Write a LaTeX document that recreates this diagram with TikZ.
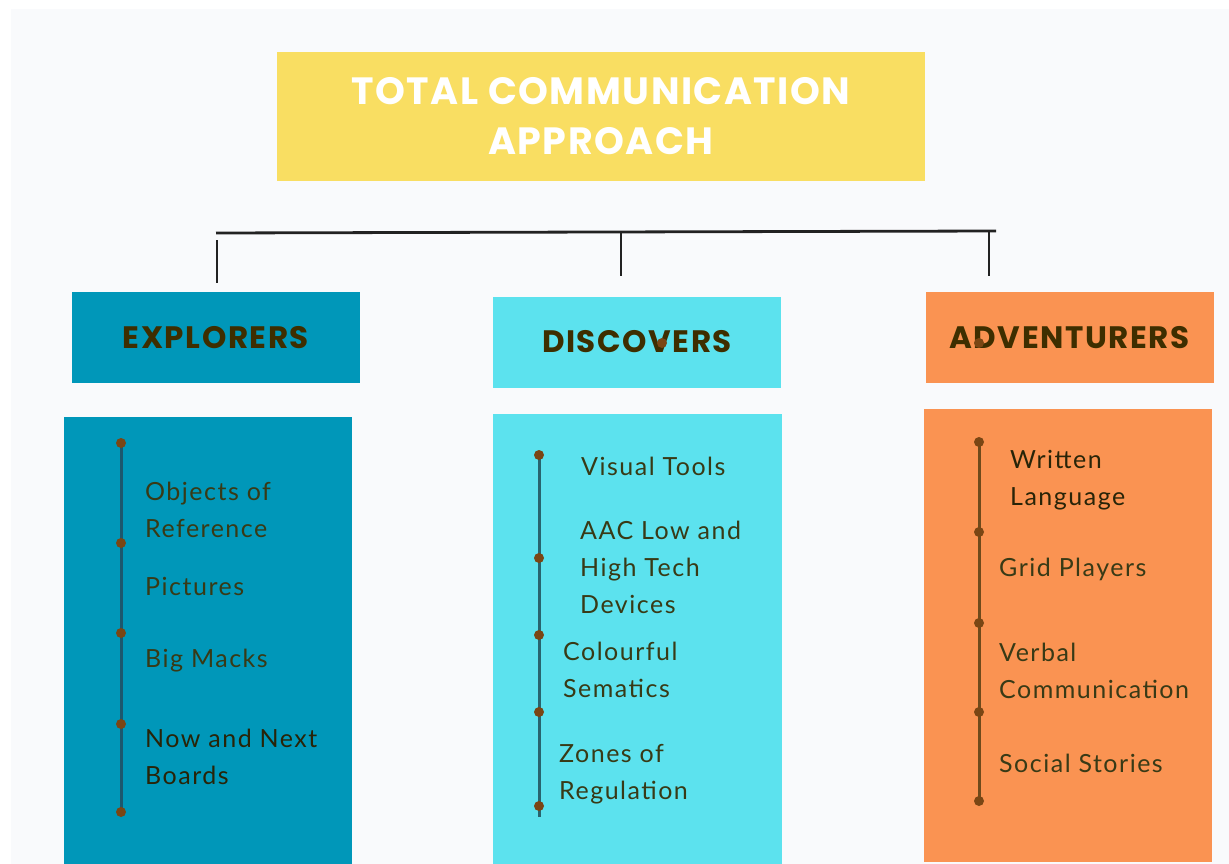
\documentclass[tikz,border=0pt]{standalone}
\usepackage{fontspec}
\setmainfont{Lato}[LetterSpace=6]
\newfontfamily\titlefont{Poppins}[LetterSpace=4]
\newfontfamily\headfont{Poppins}[LetterSpace=5]
\usetikzlibrary{positioning, calc}

\definecolor{pagebg}{RGB}{249,250,252}
\definecolor{titleyellow}{RGB}{249,222,98}
\definecolor{exploreteal}{RGB}{0,151,185}
\definecolor{discovercyan}{RGB}{92,226,238}
\definecolor{adventureorange}{RGB}{250,147,82}
\definecolor{headtext}{RGB}{62,46,0}
\definecolor{itemtext}{RGB}{56,58,22}
\definecolor{itemdark}{RGB}{40,36,8}
\definecolor{linkgray}{RGB}{34,34,34}
\definecolor{dotbrown}{RGB}{122,70,20}
\definecolor{stemteal}{RGB}{28,88,110}
\definecolor{stemslate}{RGB}{40,100,110}
\definecolor{stembrown}{RGB}{110,74,28}

\begin{document}
\begin{tikzpicture}[
    x=1pt, y=-1pt,
    title/.style={fill=titleyellow, minimum width=648pt, minimum height=129pt,
                  align=center, text=white, inner sep=0pt,
                  font=\titlefont\bfseries\fontsize{38}{50}\selectfont},
    head/.style={minimum width=288pt, minimum height=91pt, inner sep=0pt,
                 text=headtext, font=\headfont\bfseries\fontsize{31}{34}\selectfont},
    panel/.style={anchor=north west, minimum width=288pt, inner sep=0pt},
    item/.style={anchor=west, align=left, inner sep=0pt, text=itemtext,
                 font=\fontsize{25}{37}\selectfont},
    stem/.style={line width=3pt},
    dot/.style={circle, fill=dotbrown, inner sep=0pt, minimum size=10pt},
    link/.style={draw=linkgray, line width=2.8pt}
  ]
    \useasboundingbox (0,0) rectangle (1229,864);
    \fill[white] (0,0) rectangle (1229,864);
    \fill[pagebg] (11,9) rectangle (1229,864);

    \node[title] (title) at (601,116.5) {TOTAL COMMUNICATION\\APPROACH};

    % group headers
    \node[head, fill=exploreteal] (explorers) at (216,337.5) {EXPLORERS};
    \node[head, fill=discovercyan] (discovers) at (637,342) {DISCOVERS};
    \node[head, fill=adventureorange] (adventurers) at (1069.5,337.5) {ADVENTURERS};

    % tree bar
    \coordinate (busL) at (216,233);
    \coordinate (busR) at (996,231);
    \coordinate (tickL) at (217,240);
    \coordinate (tickM) at (621,232);
    \coordinate (tickR) at (989,231);
    \draw[link] (busL) -- (busR);
    \draw[link] (tickL) -- (tickL |- 0,283);
    \draw[link] (tickM) -- (tickM |- 0,276);
    \draw[link] (tickR) -- (tickR |- 0,276);

    % panels
    \node[panel, fill=exploreteal, minimum height=447pt] (explist) at (64,417) {};
    \node[panel, fill=discovercyan, minimum height=450pt, minimum width=289pt] (disclist) at (493,414) {};
    \node[panel, fill=adventureorange, minimum height=453pt] (advlist) at (924,409) {};

    % timelines
    \foreach \y [count=\i] in {443,543,633,724,812}
      \coordinate (e\i) at (121,\y);
    \draw[stem, draw=stemteal] (e1) -- (e5);
    \foreach \i in {1,...,5} \node[dot] at (e\i) {};

    \foreach \y [count=\i] in {455,558,635,712,806}
      \coordinate (d\i) at (539,\y);
    \coordinate (dend) at (539,817);
    \draw[stem, draw=stemslate] (d1) -- (dend);
    \foreach \i in {1,...,5} \node[dot] at (d\i) {};

    \foreach \y [count=\i] in {442,532,623,712,801}
      \coordinate (a\i) at (979,\y);
    \draw[stem, draw=stembrown] (a1) -- (a5);
    \foreach \i in {1,...,5} \node[dot] at (a\i) {};

    \node[dot] at (662,343) {};
    \node[dot] at (979,343) {};

    % items
    \node[item] (objects) at (145,510) {Objects of\\Reference};
    \node[item] (pictures) at (145,586) {Pictures};
    \node[item] (bigmacks) at (145,661) {Big Macks};
    \node[item, text=itemdark] (nownext) at (145,757) {Now and Next\\Boards};

    \node[item] (visual) at (581,466) {Visual Tools};
    \node[item] (aac) at (580,567) {AAC Low and\\High Tech\\Devices};
    \node[item] (colourful) at (563,670) {Colourful\\Sematics};
    \node[item] (zones) at (559,774) {Zones of\\Regulation};

    \node[item, text=itemdark] (written) at (1010,480) {Written\\Language};
    \node[item] (grid) at (999,569) {Grid Players};
    \node[item] (verbal) at (999,671) {Verbal\\Communication};
    \node[item] (social) at (999,763) {Social Stories};
  \end{tikzpicture}
\end{document}
